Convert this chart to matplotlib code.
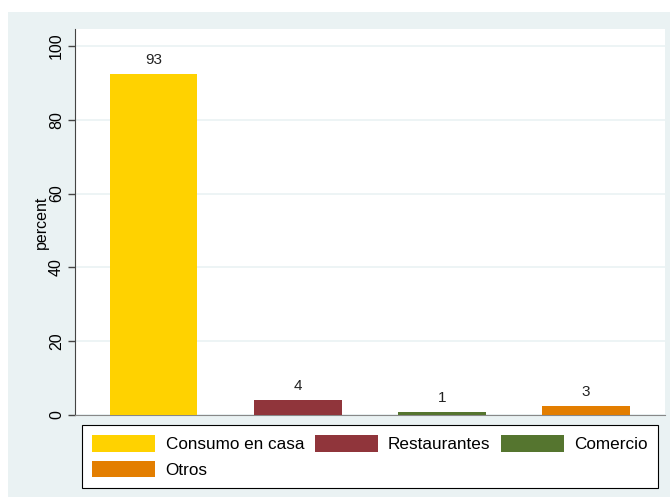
import matplotlib.pyplot as plt
from matplotlib.patches import Rectangle, Patch

# datos
categorias = ["Consumo en casa", "Restaurantes", "Comercio", "Otros"]
porcentajes = [92.4, 4.2, 0.9, 2.5]
etiquetas = ["93", "4", "1", "3"]
colores = ["#FFD200", "#90353B", "#55752F", "#E37E00"]
ticks_y = [0, 20, 40, 60, 80, 100]

plt.rcParams["font.family"] = ["Liberation Sans", "DejaVu Sans"]

fig = plt.figure(figsize=(6.7, 4.97), dpi=100)
fig.patch.set_facecolor("white")

# fondo gris azulado estilo Stata
fig.patches.append(Rectangle((8 / 670, 0), 1, 1 - 12 / 497,
                             transform=fig.transFigure, facecolor="#EAF2F3",
                             edgecolor="none", zorder=-10))

ax = fig.add_axes([75 / 670, 1 - 415 / 497, 590 / 670, 386 / 497])
ax.set_facecolor("white")

x = list(range(len(categorias)))
ax.bar(x, porcentajes, width=0.61, color=colores, zorder=3)

for xi, v, t in zip(x, porcentajes, etiquetas):
    ax.annotate(t, (xi, v), xytext=(0, 5), textcoords="offset points",
                ha="center", va="bottom", fontsize=11, color="#222222")

ax.set_xlim(-0.545, 3.55)
ax.set_ylim(0, 104.6)
ax.set_yticks(ticks_y)
ax.set_yticklabels([str(t) for t in ticks_y], rotation=90, va="center")
ax.set_xticks([])
ax.tick_params(axis="y", direction="out", length=5, width=1, color="#444444",
               labelsize=11.5, pad=3)
ax.yaxis.grid(True, color="#EAF2F3", linewidth=1.2, zorder=0)
ax.set_ylabel("percent", fontsize=11.5, labelpad=0)

for s in ["top", "right"]:
    ax.spines[s].set_visible(False)
ax.spines["left"].set_color("#444444")
ax.spines["bottom"].set_color("#888888")

# orden por filas: matplotlib llena la leyenda por columnas
orden = [0, 3, 1, 2]
handles = [Patch(facecolor=colores[i], edgecolor="none") for i in orden]
nombres = [categorias[i] for i in orden]
leg = fig.legend(handles, nombres, ncol=3, loc="upper left",
                 bbox_to_anchor=(82 / 670, 1 - 483 / 497, 576 / 670, 58 / 497),
                 mode="expand", borderaxespad=0, fontsize=12.3,
                 handlelength=3.7, handleheight=1.1,
                 handletextpad=0.6, labelspacing=0.5, borderpad=0.6,
                 fancybox=False, framealpha=1, edgecolor="black")
leg.get_frame().set_linewidth(0.8)

fig.savefig("out.png", dpi=100)
